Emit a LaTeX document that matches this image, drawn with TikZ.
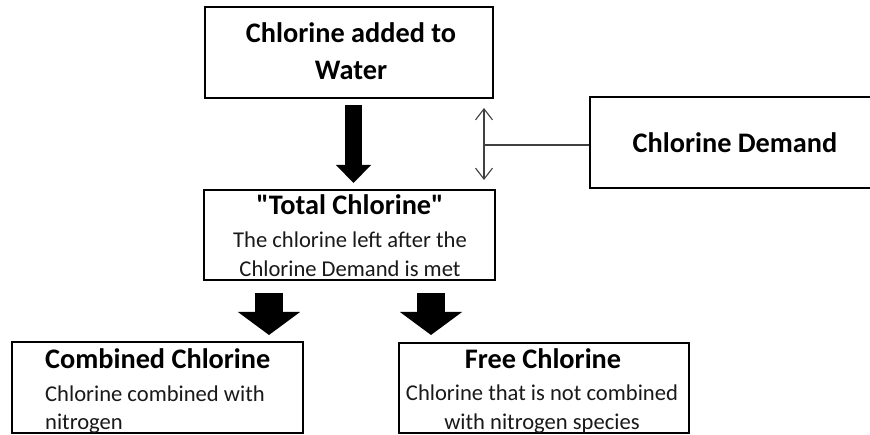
\documentclass[tikz,border=0pt]{standalone}
\usepackage{fontspec}
\setmainfont{Carlito}
\usetikzlibrary{arrows.meta}
\begin{document}
\begin{tikzpicture}[x=1pt,y=-1pt,
  box/.style={draw=black,line width=2pt,rectangle,inner sep=0pt,fill=white},
  ttl/.style={font=\fontsize{28.3}{30}\selectfont\bfseries,inner sep=0pt,text=black},
  bdy/.style={font=\fontsize{22.6}{25}\selectfont,inner sep=0pt,text=black!90},
  blockarrow/.style={line width=#1,-{Triangle[length=18pt,width=34pt]}},
  thin/.style={draw=black!75,line width=1.1pt}]
\clip (0,0) rectangle (870,435);
\fill[white] (0,0) rectangle (870,435);
% boxes
\node[box,minimum width=288pt,minimum height=91pt] (top) at (349,52.5) {};
\node[box,minimum width=290pt,minimum height=91pt] (demand) at (735,142.5) {};
\node[box,minimum width=291pt,minimum height=90pt] (mid) at (349.5,235) {};
\node[box,minimum width=291pt,minimum height=91pt] (comb) at (157.5,387.5) {};
\node[box,minimum width=290pt,minimum height=90pt] (free) at (544,388) {};
% texts
\node[ttl,anchor=base] (t1) at (351,43) {Chlorine added to};
\node[ttl,anchor=base] (t2) at (351,80) {Water};
\node[ttl,anchor=base] (d1) at (735,153) {Chlorine Demand};
\node[ttl,anchor=base] (m1) at (350,215) {\textquotedbl Total Chlorine\textquotedbl};
\node[bdy,anchor=base] (m2) at (350,248) {The chlorine left after the};
\node[bdy,anchor=base] (m3) at (350,277) {Chlorine Demand is met};
\node[ttl,anchor=base west] (c1) at (45,369) {Combined Chlorine};
\node[bdy,anchor=base west] (c2) at (45,402) {Chlorine combined with};
\node[bdy,anchor=base west] (c3) at (45,429) {nitrogen};
\node[ttl,anchor=base] (f1) at (543,369) {Free Chlorine};
\node[bdy,anchor=base] (f2) at (542,401) {Chlorine that is not combined};
\node[bdy,anchor=base] (f3) at (542,429) {with nitrogen species};
% block arrows
\coordinate (a1s) at (353.5,105);
\coordinate (a1e) at (353.5,183);
\coordinate (a2s) at (269,293);
\coordinate (a2e) at (269,335);
\coordinate (a3s) at (431,293);
\coordinate (a3e) at (431,335);
\draw[blockarrow=17pt] (a1s) -- (a1e);
\draw[line width=28pt,-{Triangle[length=23pt,width=61pt]}] (a2s) -- (a2e);
\draw[line width=28pt,-{Triangle[length=23pt,width=61pt]}] (a3s) -- (a3e);
% demand connector
\coordinate (dt) at (484,108);
\coordinate (db) at (484,180);
\coordinate (dm) at (484,145);
\draw[thin,{Straight Barb[length=11pt,width=17pt]}-{Straight Barb[length=11pt,width=17pt]}] (dt) -- (db);
\draw[thin] (dm) -- (demand.west |- dm);
\end{tikzpicture}
\end{document}
